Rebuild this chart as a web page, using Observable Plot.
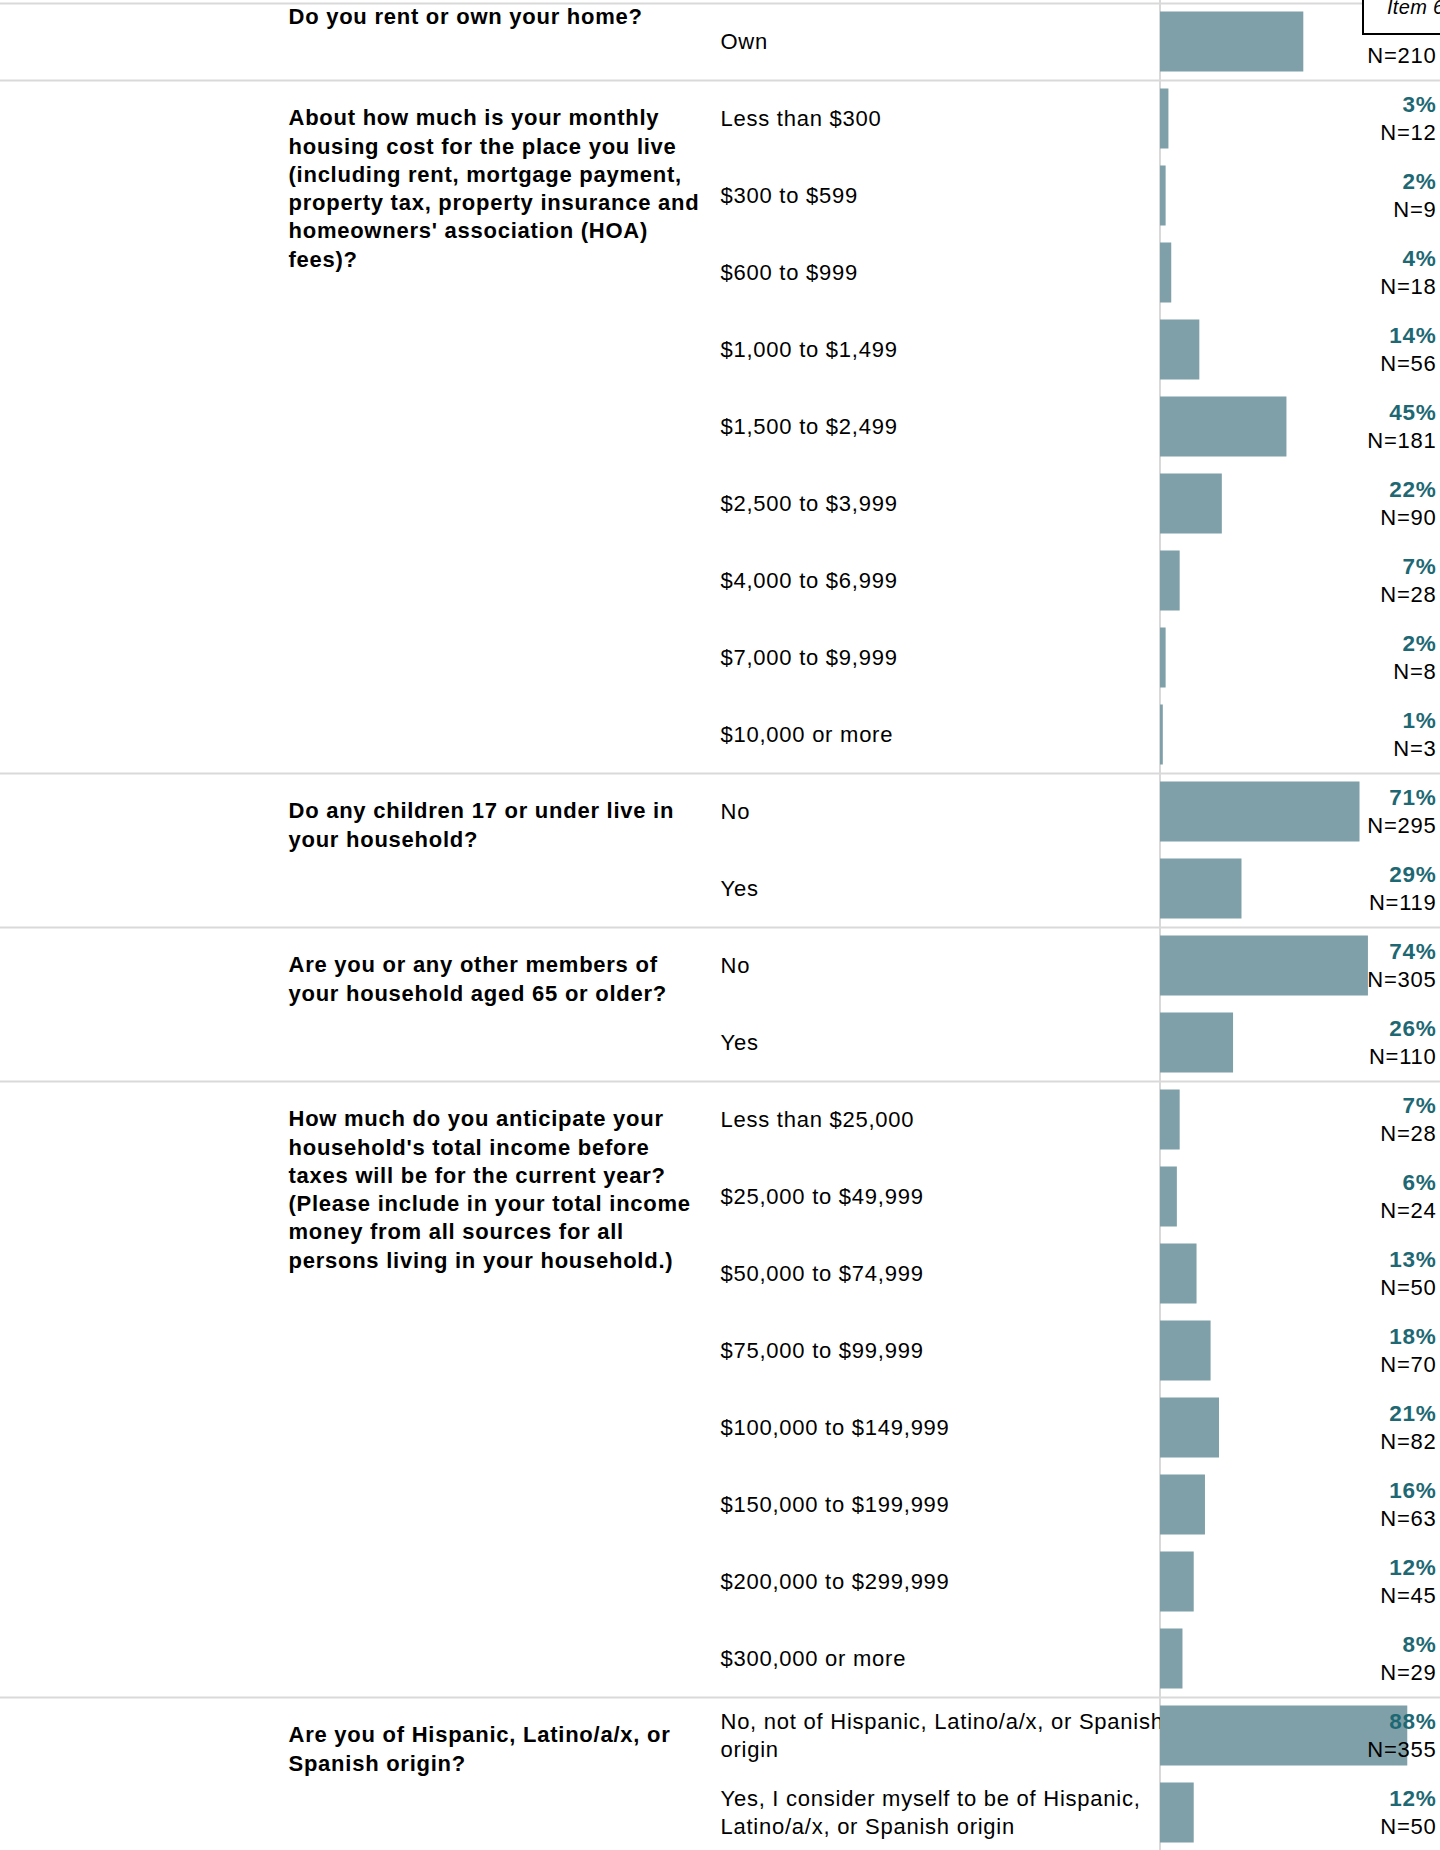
<!DOCTYPE html>
<html>
<head>
<meta charset="utf-8">
<script src="https://cdn.jsdelivr.net/npm/d3@7"></script>
<script src="https://cdn.jsdelivr.net/npm/@observablehq/plot@0.6"></script>
<style>
html, body { margin: 0; padding: 0; background: #fff; overflow: hidden; }
#wrap { position: relative; width: 1440px; height: 1850px; overflow: hidden; font-family: "Liberation Sans", Arial, Helvetica, sans-serif; }
#wrap svg text { letter-spacing: 0.75px; }
#item { position: absolute; left: 1362px; top: -40px; width: 200px; height: 75px; box-sizing: border-box; border: 2px solid #000; background: #fff; }
#itemText { position: absolute; left: 1387px; top: -3.5px; font-style: italic; font-size: 20px; line-height: 20px; white-space: nowrap; color: #000; letter-spacing: 0.3px; }
</style>
</head>
<body>
<div id="wrap"></div>
<script>
// ---- Data ----
const questions = [
  "Do you rent or own your home?",
  "About how much is your monthly\nhousing cost for the place you live\n(including rent, mortgage payment,\nproperty tax, property insurance and\nhomeowners' association (HOA)\nfees)?",
  "Do any children 17 or under live in\nyour household?",
  "Are you or any other members of\nyour household aged 65 or older?",
  "How much do you anticipate your\nhousehold's total income before\ntaxes will be for the current year?\n(Please include in your total income\nmoney from all sources for all\npersons living in your household.)",
  "Are you of Hispanic, Latino/a/x, or\nSpanish origin?"
];

const answers = [
  "Own",
  "Less than $300", "$300 to $599", "$600 to $999", "$1,000 to $1,499", "$1,500 to $2,499",
  "$2,500 to $3,999", "$4,000 to $6,999", "$7,000 to $9,999", "$10,000 or more",
  "No", "Yes",
  "No", "Yes",
  "Less than $25,000", "$25,000 to $49,999", "$50,000 to $74,999", "$75,000 to $99,999",
  "$100,000 to $149,999", "$150,000 to $199,999", "$200,000 to $299,999", "$300,000 or more",
  "No, not of Hispanic, Latino/a/x, or Spanish\norigin",
  "Yes, I consider myself to be of Hispanic,\nLatino/a/x, or Spanish origin"
];

const answerQuestion = [0, 1,1,1,1,1,1,1,1,1, 2,2, 3,3, 4,4,4,4,4,4,4,4, 5,5];

const percents = [51, 3, 2, 4, 14, 45, 22, 7, 2, 1, 71, 29, 74, 26, 7, 6, 13, 18, 21, 16, 12, 8, 88, 12];

const counts = [210, 12, 9, 18, 56, 181, 90, 28, 8, 3, 295, 119, 305, 110, 28, 24, 50, 70, 82, 63, 45, 29, 355, 50];

const itemLabel = "Item 6";

// ---- Build tables ----
const rows = answers.map((a, i) => ({
  row: i, answer: a, q: answerQuestion[i], pct: percents[i], n: counts[i],
  pctLabel: percents[i] + "%", nLabel: "N=" + counts[i]
}));
const qRows = questions.map((text, qi) => ({ text, qi, row: answerQuestion.indexOf(qi) }));

const font = '"Liberation Sans", Arial, Helvetica, sans-serif';
const barColor = "#7fa0a8";
const pctColor = "#1d6873";
const lineColor = "#d9d9d9";
const bandW = (1851.5 - 2.8) / answers.length;

const chart = Plot.plot({
  width: 1440,
  height: 1850,
  marginTop: 0, marginBottom: 0, marginLeft: 0, marginRight: 0,
  style: { fontFamily: font, background: "#fff", color: "#000", overflow: "visible" },
  x: { domain: [0, 100], range: [1160, 1441], axis: null },
  y: { domain: d3.range(answers.length), range: [2.8, 1851.5], padding: 0, axis: null },
  marks: [
    Plot.ruleY(qRows, { y: "row", dy: -bandW / 2, stroke: lineColor, strokeWidth: 2 }),
    Plot.ruleX([0], { stroke: lineColor, strokeWidth: 2, dx: -0.5 }),
    Plot.text(rows, {
      y: "row", text: "answer", frameAnchor: "left", dx: 720, textAnchor: "start",
      lineAnchor: "middle", lineHeight: 1.286, dy: -2,
      fontSize: 22, fill: "#000"
    }),
    Plot.barX(rows, { x1: 0, x2: "pct", y: "row", fill: barColor, insetTop: 8.5, insetBottom: 8.5 }),
    // the first row's percentage sits under the "Item" box in the reference, so it is not drawn
    Plot.text(rows.filter(d => d.row !== 0), {
      y: "row", text: "pctLabel", frameAnchor: "right", dx: -4, textAnchor: "end",
      dy: -14.4, fontSize: 22.5, fontWeight: "bold", fill: pctColor
    }),
    Plot.text(rows, {
      y: "row", text: "nLabel", frameAnchor: "right", dx: -4, textAnchor: "end",
      dy: 13.6, fontSize: 22, fill: "#000"
    }),
    Plot.text(qRows.filter(d => d.qi > 0), {
      y: "row", text: "text", frameAnchor: "left", dx: 288, textAnchor: "start",
      lineAnchor: "top", lineHeight: 1.286, dy: -13.8,
      fontSize: 22, fontWeight: "bold", fill: "#000"
    }),
    Plot.text(qRows.filter(d => d.qi === 0), {
      y: "row", text: "text", frameAnchor: "left", dx: 288, textAnchor: "start",
      lineAnchor: "top", lineHeight: 1.286, dy: -38,
      fontSize: 22, fontWeight: "bold", fill: "#000"
    })
  ]
});

const wrap = document.getElementById("wrap");
wrap.appendChild(chart);
const box = document.createElement("div");
box.id = "item";
wrap.appendChild(box);
const itemText = document.createElement("div");
itemText.id = "itemText";
itemText.textContent = itemLabel;
wrap.appendChild(itemText);
</script>
</body>
</html>
